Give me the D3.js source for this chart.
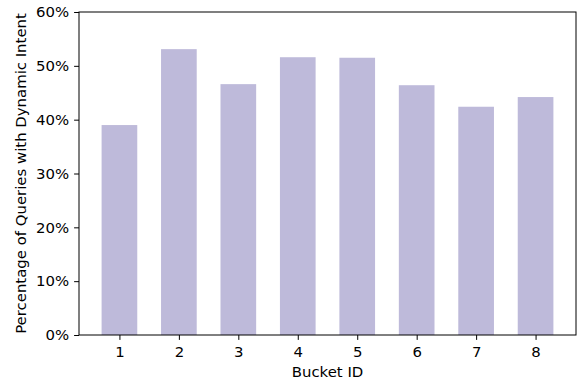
<!DOCTYPE html>
<html>
<head>
<meta charset="utf-8">
<script src="https://cdn.jsdelivr.net/npm/d3@7"></script>
<style>
  body { margin: 0; background: #fff; }
  text { font-family: "DejaVu Sans", sans-serif; }
</style>
</head>
<body>
<svg id="chart"></svg>
<script>
// Data
const buckets = [1, 2, 3, 4, 5, 6, 7, 8];
const dynamicShare = [0.390, 0.531, 0.466, 0.516, 0.515, 0.464, 0.424, 0.442];
const yTicks = [0, 0.1, 0.2, 0.3, 0.4, 0.5, 0.6];

// Constants
const width = 581;
const height = 381;
const margin = {top: 12, right: 5, bottom: 46, left: 79};
const fontSize = 14.9;

const svg = d3.select("#chart")
    .attr("width", width)
    .attr("height", height);

// Scales (matplotlib-style: bars 0.6 wide, 5% margins)
const xScale = d3.scaleLinear()
    .domain([0.32, 8.68])
    .range([margin.left, width - margin.right]);

const yScale = d3.scaleLinear()
    .domain([0, 0.6])
    .range([height - margin.bottom, margin.top]);

const barWidth = xScale(1.6) - xScale(1);

// Bars
svg.append("g")
  .selectAll("rect")
  .data(buckets)
  .enter()
    .append("rect")
    .attr("x", (d, i) => xScale(d) - barWidth / 2)
    .attr("y", (d, i) => yScale(dynamicShare[i]))
    .attr("width", barWidth)
    .attr("height", (d, i) => yScale(0) - yScale(dynamicShare[i]))
    .attr("fill", "#bebada");

// Axes
const xAxis = d3.axisBottom(xScale)
    .tickValues(buckets)
    .tickFormat(d3.format("d"))
    .tickSize(4.9)
    .tickPadding(6.5);

const yAxis = d3.axisLeft(yScale)
    .tickValues(yTicks)
    .tickFormat(d3.format(".0%"))
    .tickSize(4.9)
    .tickPadding(4.9);

const gx = svg.append("g")
    .attr("transform", `translate(0,${height - margin.bottom})`)
    .call(xAxis);

const gy = svg.append("g")
    .attr("transform", `translate(${margin.left},0)`)
    .call(yAxis);

[gx, gy].forEach(g => {
  g.select(".domain").remove();
  g.selectAll("line").attr("stroke", "#000").attr("stroke-width", 1);
  g.selectAll("text")
      .attr("fill", "#000")
      .style("font-size", fontSize + "px")
      .style("font-family", "DejaVu Sans");
});

// Frame
svg.append("rect")
    .attr("x", margin.left)
    .attr("y", margin.top)
    .attr("width", width - margin.left - margin.right)
    .attr("height", height - margin.top - margin.bottom)
    .attr("fill", "none")
    .attr("stroke", "#000")
    .attr("stroke-width", 1);

// Labels
svg.append("text")
    .attr("x", (margin.left + width - margin.right) / 2)
    .attr("y", 377)
    .style("text-anchor", "middle")
    .style("font-size", fontSize + "px")
    .text("Bucket ID");

svg.append("text")
    .attr("transform", `translate(26,${(margin.top + height - margin.bottom) / 2}) rotate(-90)`)
    .style("text-anchor", "middle")
    .style("font-size", fontSize + "px")
    .text("Percentage of Queries with Dynamic Intent");
</script>
</body>
</html>
